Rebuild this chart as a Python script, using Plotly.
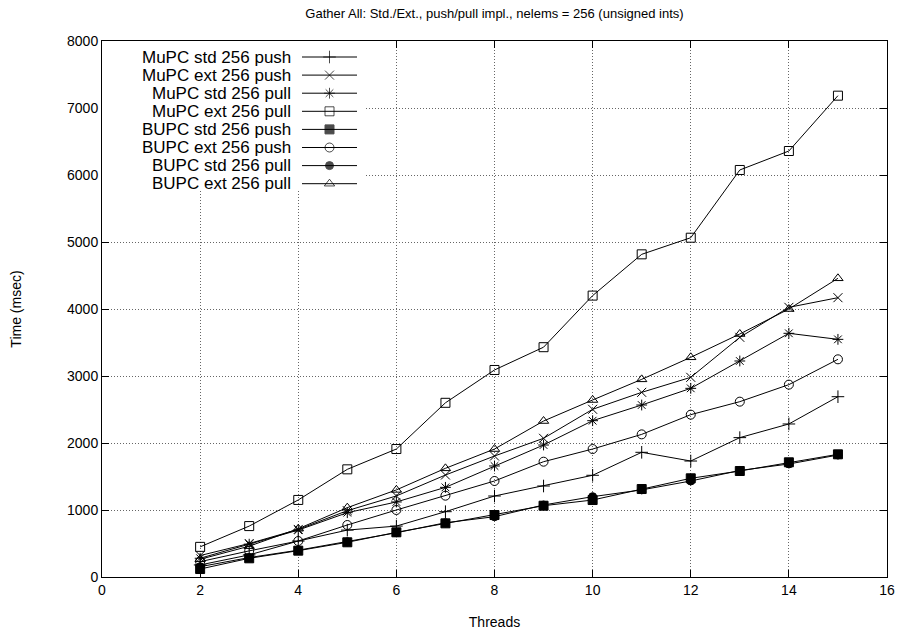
import plotly.graph_objects as go

# Thread counts on the x axis
threads = [2, 3, 4, 5, 6, 7, 8, 9, 10, 11, 12, 13, 14, 15]

# Times in msec for each variant
mupc_std_push = [180, 330, 537, 700, 760, 975, 1209, 1358, 1518, 1861, 1731, 2080, 2284, 2691]
mupc_ext_push = [320, 500, 710, 990, 1210, 1522, 1806, 2070, 2503, 2756, 2980, 3577, 4025, 4169]
mupc_std_pull = [280, 490, 700, 960, 1120, 1338, 1657, 1970, 2333, 2567, 2816, 3224, 3637, 3547]
mupc_ext_pull = [450, 760, 1150, 1607, 1910, 2600, 3090, 3430, 4200, 4816, 5064, 6075, 6358, 7184]
bupc_std_push = [119, 279, 393, 518, 667, 801, 925, 1064, 1149, 1313, 1473, 1582, 1712, 1831]
bupc_ext_push = [229, 390, 537, 776, 1000, 1214, 1433, 1721, 1910, 2129, 2423, 2617, 2871, 3249]
bupc_std_pull = [154, 290, 400, 525, 660, 810, 900, 1075, 1199, 1300, 1433, 1590, 1687, 1820]
bupc_ext_pull = [264, 460, 720, 1035, 1300, 1622, 1910, 2328, 2642, 2950, 3279, 3627, 4000, 4458]

series_names = [
    "MuPC std 256 push", "MuPC ext 256 push", "MuPC std 256 pull", "MuPC ext 256 pull",
    "BUPC std 256 push", "BUPC ext 256 push", "BUPC std 256 pull", "BUPC ext 256 pull",
]
series_values = [
    mupc_std_push, mupc_ext_push, mupc_std_pull, mupc_ext_pull,
    bupc_std_push, bupc_ext_push, bupc_std_pull, bupc_ext_pull,
]
symbols = [
    "cross-thin-open", "x-thin-open", "asterisk-open", "square-open",
    "square", "circle-open", "circle", "triangle-up-open",
]
sizes = [9, 9, 9, 9, 9, 9, 8, 9]

FONT = "Liberation Sans, Arial, sans-serif"
W, H = 907, 637
L, R, T, B = 102, 20, 41, 60
PW, PH = W - L - R, H - T - B

fig = go.Figure()

for name, vals, sym, sz in zip(series_names, series_values, symbols, sizes):
    fig.add_trace(go.Scatter(
        x=threads, y=vals, name=name, mode="lines+markers",
        line=dict(color="black", width=1),
        marker=dict(symbol=sym, size=sz, color="black",
                    line=dict(color="black", width=1)),
        showlegend=False,
    ))

# Key in the top-left corner, drawn in its own small subplot (pixel units)
# whose white background hides the grid behind it.
key_left, key_right, key_top, key_bottom = L, 366, T, 191
key_x0, key_x1 = 302, 357   # extent of the sample line
key_text_right = 293
row0, row_step = 57, 18.1
annotations = []
for i, (name, sym, sz) in enumerate(zip(series_names, symbols, sizes)):
    ry = row0 + i * row_step
    fig.add_trace(go.Scatter(
        x=[key_x0, (key_x0 + key_x1) / 2, key_x1], y=[ry, ry, ry],
        mode="lines+markers", xaxis="x2", yaxis="y2",
        showlegend=False, hoverinfo="skip",
        line=dict(color="black", width=1),
        marker=dict(symbol=sym, size=[0, sz, 0], color="black",
                    line=dict(color="black", width=1)),
    ))
    annotations.append(dict(
        text=name, x=key_text_right, xref="x2",
        y=ry, yref="y2", xanchor="right", yanchor="middle",
        showarrow=False, font=dict(family=FONT, size=17, color="black"),
    ))

axis_common = dict(
    showline=True, linecolor="black", linewidth=1, mirror="ticks",
    ticks="inside", ticklen=7, tickcolor="black", tickwidth=1,
    showgrid=True, gridcolor="#666666", gridwidth=1, griddash="1px,2px",
    zeroline=False, automargin=False,
    tickfont=dict(family=FONT, size=14, color="black"),
)

fig.update_layout(
    width=W, height=H,
    margin=dict(l=L, r=R, t=T, b=B),
    paper_bgcolor="white", plot_bgcolor="white",
    font=dict(family=FONT, color="black"),
    title=dict(
        text="Gather All: Std./Ext., push/pull impl., nelems = 256 (unsigned ints)",
        x=(L + PW / 2) / W, xanchor="center", y=1 - 13 / H, yanchor="middle",
        font=dict(family=FONT, size=13, color="black"),
    ),
    xaxis=dict(range=[0, 16], dtick=2, tick0=0,
               title=dict(text="Threads", font=dict(family=FONT, size=14), standoff=20),
               **axis_common),
    yaxis=dict(range=[0, 8000], dtick=1000, tick0=0,
               title=dict(text="Time (msec)", font=dict(family=FONT, size=14), standoff=42),
               **axis_common),
    xaxis2=dict(domain=[0, (key_right - L) / PW], range=[key_left, key_right],
                visible=False, anchor="y2"),
    yaxis2=dict(domain=[1 - (key_bottom - T) / PH, 1], range=[key_bottom, key_top],
                visible=False, anchor="x2"),
    annotations=annotations,
    showlegend=False,
)

fig.write_html("out.html")
